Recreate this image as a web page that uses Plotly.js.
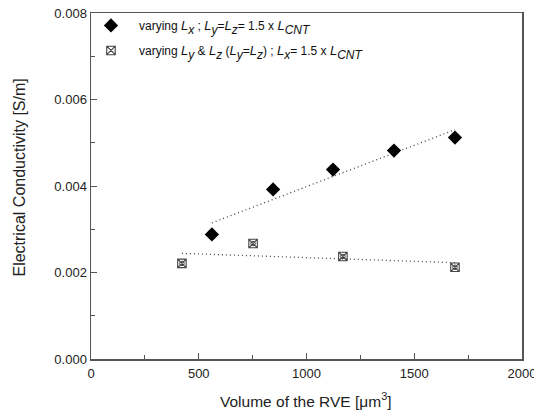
<!DOCTYPE html>
<html>
<head>
<meta charset="utf-8">
<script src="https://cdn.plot.ly/plotly-3.0.1.min.js"></script>
<style>html,body{margin:0;padding:0;background:#fff;}#chart{width:534px;height:415px;}</style>
</head>
<body>
<div id="chart"></div>
<script>
// Data
const volX_series1 = [561, 845, 1123, 1406, 1689];
const cond_series1 = [0.00288, 0.00392, 0.00438, 0.00482, 0.00512];
const volX_series2 = [422, 752, 1169, 1689];
const cond_series2 = [0.00221, 0.00267, 0.00237, 0.00212];
const xTickVals = [0, 500, 1000, 1500, 2000];
const yTickVals = [0, 0.002, 0.004, 0.006, 0.008];
const xTitle = 'Volume of the RVE [μm<sup>3</sup>]';
const yTitle = 'Electrical Conductivity [S/m]';

function L(sub) {
  return '<span style="font-size:13px"><i>L</i></span><span style="font-size:12px;baseline-shift:-4px"><i>' + sub + '</i></span>';
}
const name_series1 = 'varying ' + L('x') + ' ; ' + L('y') + '=' + L('z') + '= 1.5 x ' + L('CNT');
const name_series2 = 'varying ' + L('y') + ' &amp; ' + L('z') + ' (' + L('y') + '=' + L('z') + ') ; ' + L('x') + '= 1.5 x ' + L('CNT');

// Least-squares linear fit (the reference shows linear fits of each series)
function linfit(xs, ys) {
  const n = xs.length;
  const mx = xs.reduce((a, b) => a + b, 0) / n;
  const my = ys.reduce((a, b) => a + b, 0) / n;
  let sxy = 0, sxx = 0;
  for (let i = 0; i < n; i++) { sxy += (xs[i] - mx) * (ys[i] - my); sxx += (xs[i] - mx) ** 2; }
  const b = sxy / sxx, a = my - b * mx;
  const x0 = Math.min(...xs), x1 = Math.max(...xs);
  return { x: [x0, x1], y: [a + b * x0, a + b * x1] };
}
const fit1 = linfit(volX_series1, cond_series1);
const fit2 = linfit(volX_series2, cond_series2);

const FONT = 'Liberation Sans, Arial, Helvetica, sans-serif';
const dotLine = { color: '#444', width: 1.3, dash: '1px,3px' };
const traces = [
  { x: fit1.x, y: fit1.y, mode: 'lines', line: dotLine, showlegend: false, hoverinfo: 'skip' },
  { x: fit2.x, y: fit2.y, mode: 'lines', line: dotLine, showlegend: false, hoverinfo: 'skip' },
  { x: volX_series1, y: cond_series1, mode: 'markers', name: name_series1, legendgroup: 'a',
    marker: { symbol: 'diamond', size: 11, color: '#000' } },
  { x: volX_series2, y: cond_series2, mode: 'markers', name: name_series2, legendgroup: 'b',
    marker: { symbol: 'square-x-open', size: 8.5, color: '#444', line: { width: 1.1, color: '#444' } } },
  { x: volX_series2, y: cond_series2, mode: 'markers', showlegend: false, hoverinfo: 'skip',
    marker: { symbol: 'circle-open', size: 4.5, color: '#444', line: { width: 1, color: '#444' } } }
];

const axisCommon = {
  showgrid: false, zeroline: false, showline: true, linecolor: '#555', linewidth: 1.5,
  mirror: true, ticks: 'inside', ticklen: 6, tickwidth: 1, tickcolor: '#555',
  tickfont: { family: FONT, size: 13, color: '#222' }, ticklabeloverflow: 'allow',
  minor: { ticks: 'inside', ticklen: 4, tickwidth: 1, tickcolor: '#555' }
};

const layout = {
  width: 534, height: 415,
  margin: { l: 91, r: 12, t: 12, b: 56 },
  paper_bgcolor: '#fff', plot_bgcolor: '#fff',
  font: { family: FONT, color: '#222' },
  xaxis: Object.assign({}, axisCommon, {
    range: [0, 2000], tickmode: 'array', tickvals: xTickVals, ticklabelstandoff: 2,
    minor: Object.assign({}, axisCommon.minor, { dtick: 250, tick0: 0 })
  }),
  yaxis: Object.assign({}, axisCommon, {
    range: [0, 0.008], tickmode: 'array', tickvals: yTickVals, tickformat: '.3f',
    minor: Object.assign({}, axisCommon.minor, { dtick: 0.001, tick0: 0 })
  }),
  annotations: [
    { text: xTitle, xref: 'paper', yref: 'paper', x: (305 - 91) / 431, y: (359 - 400) / 347,
      xanchor: 'center', yanchor: 'middle', showarrow: false, font: { family: FONT, size: 15.5, color: '#222' } },
    { text: yTitle, xref: 'paper', yref: 'paper', x: (20 - 91) / 431, y: (359 - 177) / 347, textangle: -90,
      xanchor: 'center', yanchor: 'middle', showarrow: false, font: { family: FONT, size: 16, color: '#222' } }
  ],
  legend: {
    x: -0.0186, y: 1.003, xanchor: 'left', yanchor: 'top',
    bgcolor: 'rgba(0,0,0,0)', borderwidth: 0, itemwidth: 46,
    font: { family: FONT, size: 12, color: '#111' },
    tracegroupgap: 6, itemsizing: 'trace'
  },
  showlegend: true
};

Plotly.newPlot('chart', traces, layout, { staticPlot: true, displayModeBar: false });
</script>
</body>
</html>
